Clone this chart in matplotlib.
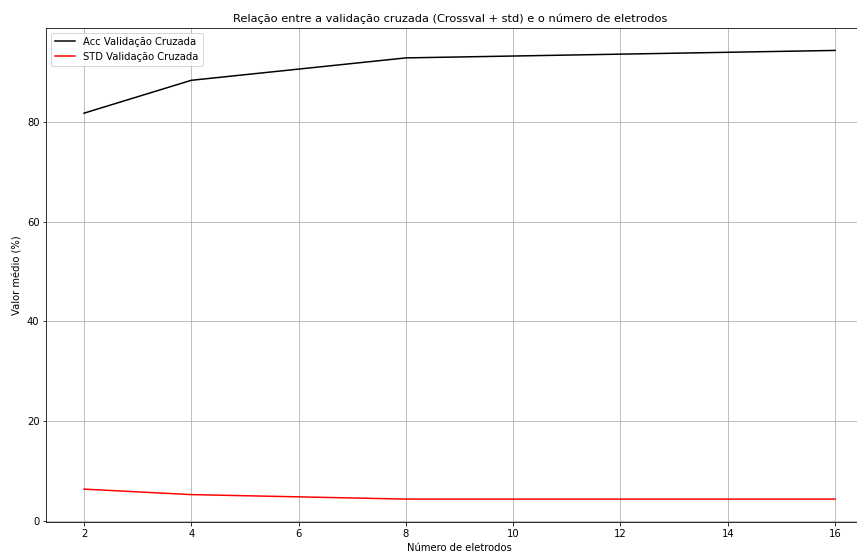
import matplotlib
matplotlib.use("Agg")
import matplotlib.pyplot as plt

# --- data ----------------------------------------------------------------
n_eletrodos = [2, 4, 8, 16]
acc_cv = [81.8, 88.4, 92.9, 94.4]
std_cv = [6.3, 5.2, 4.3, 4.3]
# -------------------------------------------------------------------------

fig = plt.figure(figsize=(857 / 72, 551 / 72), dpi=72)
ax = fig.add_axes([0.0542, 0.0535, 0.964, 0.8957])

ax.plot(n_eletrodos, acc_cv, color="black", label="Acc Validação Cruzada")
ax.plot(n_eletrodos, std_cv, color="red", label="STD Validação Cruzada")

ax.set_title("Relação entre a validação cruzada (Crossval + std) e o número de eletrodos",
             fontsize=11.4, x=0.4886)
ax.set_xlabel("Número de eletrodos")
ax.set_ylabel("Valor médio (%)")
ax.set_xticks(range(2, 17, 2))
ax.grid(True)
ax.legend(loc="upper left")

fig.savefig("out.png", dpi=72)
